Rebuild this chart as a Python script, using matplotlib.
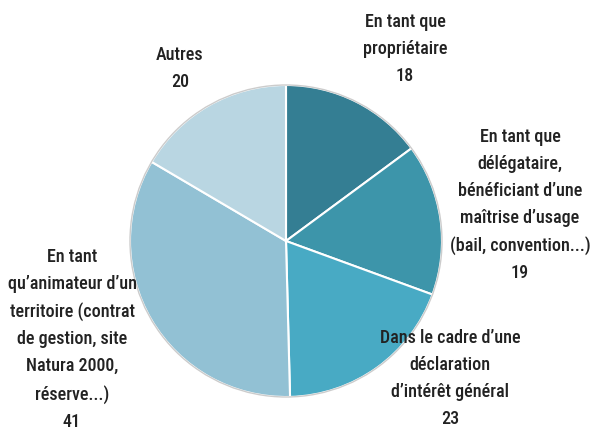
import matplotlib.pyplot as plt

plt.rcParams['font.family'] = ['Roboto Condensed', 'DejaVu Sans']

labels = ["En tant que\npropriétaire",
          "En tant que\ndélégataire,\nbénéficiant d’une\nmaîtrise d’usage\n(bail, convention...)",
          "Dans le cadre d’une\ndéclaration\nd’intérêt général",
          "En tant\nqu’animateur d’un\nterritoire (contrat\nde gestion, site\nNatura 2000,\nréserve...)",
          "Autres"]
values = [18, 19, 23, 41, 20]
colors = ['#347e93', '#3d95aa', '#48aac4', '#92c1d4', '#b9d6e2']

# label anchor (centre x, top y) in pixels from top-left
label_pos = [(405, 13), (520, 128), (450, 329), (72, 248), (180, 46)]

W, H = 591, 430
fig = plt.figure(figsize=(W / 100, H / 100), dpi=100)
ax = fig.add_axes([0, 0, 1, 1])

wedges, _ = ax.pie(values, colors=colors, startangle=90, counterclock=False,
                   center=(286, H - 241), radius=156,
                   wedgeprops=dict(edgecolor='white', linewidth=1.5))
outline = plt.Circle((286, H - 241), 156, fill=False, edgecolor='#cccccc', linewidth=1)
ax.add_patch(outline)

for lab, v, (x, y) in zip(labels, values, label_pos):
    ax.text(x, H - y, lab + "\n" + str(v), ha='center', va='top',
            fontsize=13, fontweight=500, color='#222222', linespacing=1.64)

ax.set_xlim(0, W)
ax.set_ylim(0, H)
ax.axis('off')
fig.savefig('out.png', dpi=100)
